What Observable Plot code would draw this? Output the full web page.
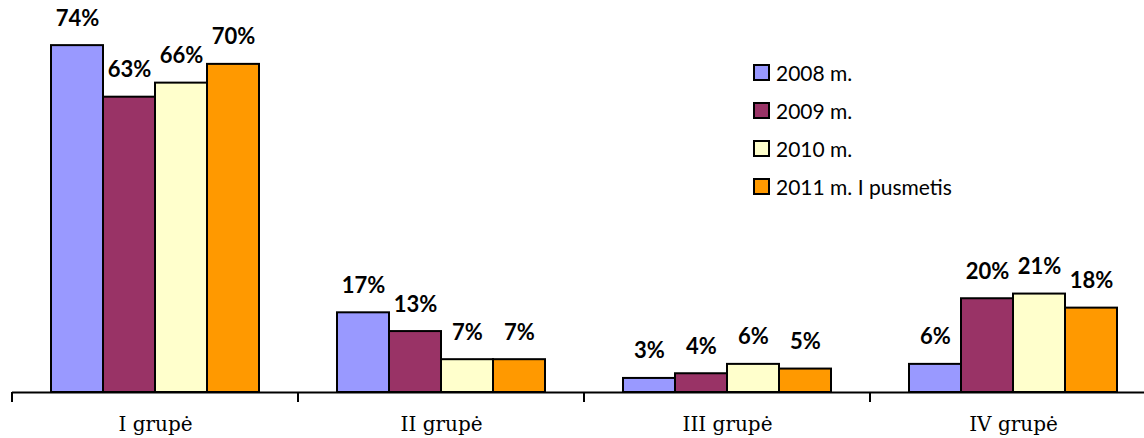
<!DOCTYPE html>
<html>
<head>
<meta charset="utf-8">
<script src="https://cdn.jsdelivr.net/npm/d3@7"></script>
<script src="https://cdn.jsdelivr.net/npm/@observablehq/plot@0.6"></script>
<style>
  html, body { margin: 0; padding: 0; background: #fff; overflow: hidden; }
  #wrap { position: relative; width: 1144px; height: 438px; }
  #legend { position: absolute; left: 753px; top: 53px; font-family: Lato, "Open Sans", sans-serif; font-size: 21px; color: #000; }
  #legend .row { display: flex; align-items: center; height: 38px; }
  #legend .sw { width: 13px; height: 13px; border: 2px solid #000; margin-right: 6px; box-sizing: content-box; }
</style>
</head>
<body>
<div id="wrap"><div id="legend"></div></div>
<script>
const groups = ["I grupė", "II grupė", "III grupė", "IV grupė"];
const series = ["2008 m.", "2009 m.", "2010 m.", "2011 m. I pusmetis"];
const colors = ["#9999FF", "#993366", "#FFFFCC", "#FF9900"];
const v2008 = [74, 17, 3, 6];
const v2009 = [63, 13, 4, 20];
const v2010 = [66, 7, 6, 21];
const v2011 = [70, 7, 5, 18];
const seriesValues = [v2008, v2009, v2010, v2011];

const data = groups.flatMap((g, i) => series.map((s, j) => ({group: g, series: s, value: seriesValues[j][i]})));

const plot = Plot.plot({
  width: 1144,
  height: 438,
  marginLeft: 10,
  marginRight: 0,
  marginTop: 17,
  marginBottom: 46,
  fx: {domain: groups, range: [10, 1157], padding: 0, axis: null},
  x: {domain: series, paddingInner: 0, paddingOuter: 0.75, axis: null},
  y: {domain: [0, 80], axis: null},
  color: {domain: series, range: colors},
  marks: [
    Plot.barY(data, {fx: "group", x: "series", y: "value", fill: "series", stroke: "#000", strokeWidth: 2, inset: 0}),
    Plot.ruleY([0], {stroke: "#000", strokeWidth: 2}),
    Plot.text(data, {fx: "group", x: "series", y: "value", text: d => d.value + "%", dy: -27,
      fontWeight: "bold", fontSize: 22, fontFamily: "Lato, 'Open Sans', sans-serif", fill: "#000"}),
    Plot.text(groups, {fx: d => d, text: d => d, frameAnchor: "bottom", dy: 38,
      fontSize: 20, fontFamily: "'DejaVu Serif', serif", fill: "#000"})
  ]
});

document.getElementById("wrap").prepend(plot);

// tick marks at group boundaries, from the library's scales
const fx = plot.scale("fx");
const y = plot.scale("y");
const y0 = y.apply(0);
const svg = d3.select(plot);
groups.forEach(g => {
  const px = fx.apply(g);
  svg.append("line").attr("x1", px).attr("x2", px).attr("y1", y0).attr("y2", y0 + 10)
    .attr("stroke", "#000").attr("stroke-width", 2);
});

const legend = d3.select("#legend");
series.forEach((s, i) => {
  const row = legend.append("div").attr("class", "row");
  row.append("div").attr("class", "sw").style("background", colors[i]);
  row.append("span").text(s);
});
</script>
</body>
</html>
